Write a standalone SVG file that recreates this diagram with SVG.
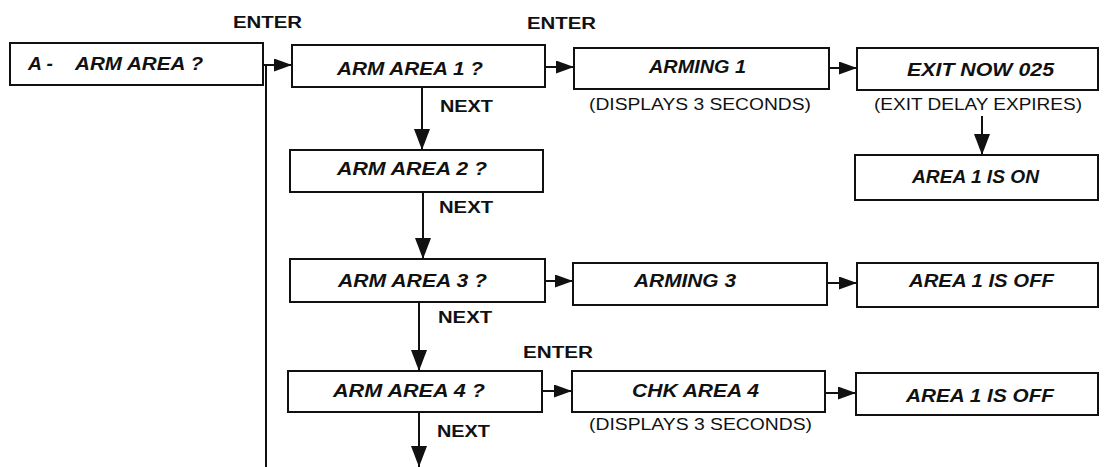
<svg xmlns="http://www.w3.org/2000/svg" width="1104" height="467" viewBox="0 0 1104 467">
<defs>
<marker id="ah" viewBox="0 0 18 13" refX="18" refY="6.5" markerWidth="18" markerHeight="13" markerUnits="userSpaceOnUse" orient="auto"><path d="M0,0 L18,6.5 L0,13 z" fill="#111"/></marker>
<marker id="av" viewBox="0 0 21 16" refX="21" refY="8" markerWidth="21" markerHeight="16" markerUnits="userSpaceOnUse" orient="auto"><path d="M0,0 L21,8 L0,16 z" fill="#111"/></marker>
<style>
rect{fill:#fff;stroke:#111;stroke-width:2}
.t{font-family:"Liberation Sans",Arial,sans-serif;font-weight:bold;font-style:italic;font-size:18px;fill:#111}
.l{font-family:"Liberation Sans",Arial,sans-serif;font-weight:bold;font-size:16px;fill:#111}
.p{font-family:"Liberation Sans",Arial,sans-serif;font-size:16px;fill:#111}
.c line{stroke:#111;stroke-width:2}
</style>
</defs>
<rect x="0" y="0" width="1104" height="467" style="fill:#fff;stroke:none"/>
<g class="c" id="connectors">
<line x1="266" y1="65" x2="266" y2="467"/>
<line x1="263" y1="65" x2="292" y2="65" marker-end="url(#ah)"/>
<line x1="545" y1="67" x2="574" y2="67" marker-end="url(#ah)"/>
<line x1="829" y1="68" x2="857" y2="68" marker-end="url(#ah)"/>
<line x1="982" y1="116" x2="982" y2="155" marker-end="url(#av)"/>
<line x1="422" y1="87" x2="422" y2="150" marker-end="url(#av)"/>
<line x1="423" y1="192" x2="423" y2="259" marker-end="url(#av)"/>
<line x1="545" y1="281" x2="573" y2="281" marker-end="url(#ah)"/>
<line x1="827" y1="283" x2="857" y2="283" marker-end="url(#ah)"/>
<line x1="419" y1="302" x2="419" y2="371" marker-end="url(#av)"/>
<line x1="542" y1="391" x2="572" y2="391" marker-end="url(#ah)"/>
<line x1="825" y1="393" x2="856" y2="393" marker-end="url(#ah)"/>
<line x1="419" y1="412" x2="419" y2="467" marker-end="url(#av)"/>
</g>
<g id="nA"><rect x="10" y="43" width="253" height="42"/><text class="t" x="28" y="70" textLength="25" lengthAdjust="spacingAndGlyphs">A -</text><text class="t" x="75" y="70" textLength="128" lengthAdjust="spacingAndGlyphs">ARM AREA ?</text></g>
<g id="n1"><rect x="292" y="45" width="253" height="42"/><text class="t" x="337" y="75" textLength="146" lengthAdjust="spacingAndGlyphs">ARM AREA 1 ?</text></g>
<g id="nArm1"><rect x="574" y="48" width="255" height="41"/><text class="t" x="649" y="73" textLength="97" lengthAdjust="spacingAndGlyphs">ARMING 1</text></g>
<g id="nExit"><rect x="857" y="48" width="241" height="42"/><text class="t" x="907" y="76" textLength="147" lengthAdjust="spacingAndGlyphs">EXIT NOW 025</text></g>
<g id="nOn"><rect x="855" y="155" width="243" height="45"/><text class="t" x="912" y="183" textLength="127" lengthAdjust="spacingAndGlyphs">AREA 1 IS ON</text></g>
<g id="n2"><rect x="290" y="150" width="253" height="42"/><text class="t" x="337" y="175" textLength="150" lengthAdjust="spacingAndGlyphs">ARM AREA 2 ?</text></g>
<g id="n3"><rect x="290" y="259" width="255" height="43"/><text class="t" x="338" y="287" textLength="149" lengthAdjust="spacingAndGlyphs">ARM AREA 3 ?</text></g>
<g id="nArm3"><rect x="573" y="263" width="254" height="42"/><text class="t" x="634" y="287" textLength="102" lengthAdjust="spacingAndGlyphs">ARMING 3</text></g>
<g id="nOff3"><rect x="857" y="263" width="241" height="44"/><text class="t" x="909" y="287" textLength="145" lengthAdjust="spacingAndGlyphs">AREA 1 IS OFF</text></g>
<g id="n4"><rect x="288" y="371" width="254" height="41"/><text class="t" x="333" y="397" textLength="152" lengthAdjust="spacingAndGlyphs">ARM AREA 4 ?</text></g>
<g id="nChk"><rect x="572" y="371" width="253" height="41"/><text class="t" x="632" y="397" textLength="127" lengthAdjust="spacingAndGlyphs">CHK AREA 4</text></g>
<g id="nOff4"><rect x="856" y="373" width="242" height="42"/><text class="t" x="906" y="402" textLength="148" lengthAdjust="spacingAndGlyphs">AREA 1 IS OFF</text></g>
<g id="labels">
<text class="l" x="233" y="28" textLength="69" lengthAdjust="spacingAndGlyphs">ENTER</text>
<text class="l" x="527" y="29" textLength="69" lengthAdjust="spacingAndGlyphs">ENTER</text>
<text class="l" x="523" y="358" textLength="70" lengthAdjust="spacingAndGlyphs">ENTER</text>
<text class="l" x="440" y="112" textLength="53" lengthAdjust="spacingAndGlyphs">NEXT</text>
<text class="l" x="439" y="213" textLength="54" lengthAdjust="spacingAndGlyphs">NEXT</text>
<text class="l" x="438" y="323" textLength="54" lengthAdjust="spacingAndGlyphs">NEXT</text>
<text class="l" x="437" y="437" textLength="53" lengthAdjust="spacingAndGlyphs">NEXT</text>
<text class="p" x="589" y="110" textLength="222" lengthAdjust="spacingAndGlyphs">(DISPLAYS 3 SECONDS)</text>
<text class="p" x="874" y="110" textLength="208" lengthAdjust="spacingAndGlyphs">(EXIT DELAY EXPIRES)</text>
<text class="p" x="589" y="430" textLength="223" lengthAdjust="spacingAndGlyphs">(DISPLAYS 3 SECONDS)</text>
</g>
</svg>
